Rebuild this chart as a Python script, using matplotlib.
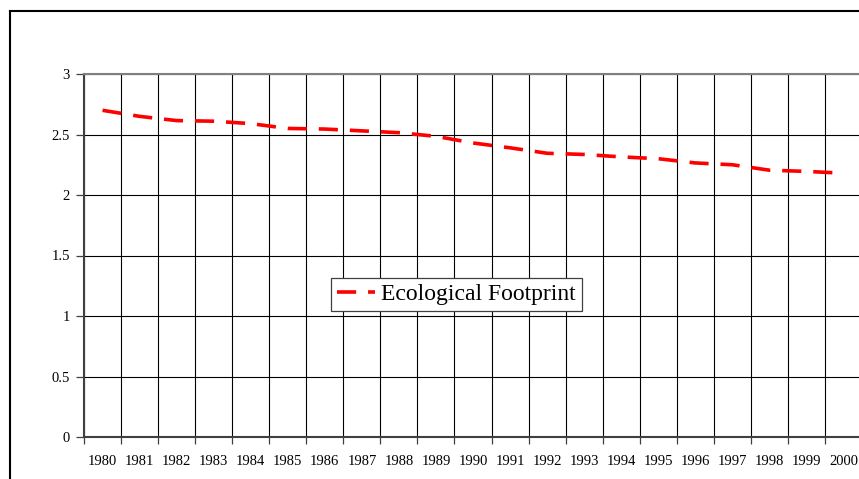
import matplotlib
matplotlib.use("Agg")
import matplotlib.pyplot as plt
from matplotlib.lines import Line2D

# Data points
years = [str(y) for y in range(1980, 2001)]
footprint = [2.70, 2.65, 2.615, 2.61, 2.59, 2.55, 2.545, 2.53, 2.515, 2.485,
             2.43, 2.39, 2.345, 2.335, 2.315, 2.30, 2.265, 2.25, 2.205, 2.195, 2.18]
yticks = [0, 0.5, 1, 1.5, 2, 2.5, 3]

plt.rcParams['font.family'] = ['Liberation Serif', 'DejaVu Serif']

W, H = 859, 479
fig = plt.figure(figsize=(W / 100, H / 100), dpi=100)

# plot area (runs slightly past the right edge like the original)
ax = fig.add_axes([84 / W, 1 - 437 / H, (862 - 84) / W, (437 - 74) / H])

x = list(range(len(years)))
ax.plot(x, footprint, color='#FF0000', lw=2.6, solid_capstyle='butt',
        dash_capstyle='butt', linestyle=(0, (5.3, 3.3)), label='Ecological Footprint',
        zorder=3)

ax.set_xlim(-0.5, len(years) - 0.5)
ax.set_ylim(0, 3)

# category boundaries carry the ticks and grid, labels sit in the middle
ax.set_xticks([i - 0.5 for i in range(len(years) + 1)])
ax.set_xticklabels([])
ax.set_xticks(x, minor=True)
ax.set_xticklabels(years, minor=True, fontsize=10.5)
ax.tick_params(axis='x', which='major', length=5, width=0.9, color='#404040', direction='out')
ax.tick_params(axis='x', which='minor', length=0, pad=13)

ax.set_yticks(yticks)
ax.set_yticklabels([f'{v:g}' for v in yticks], fontsize=10.5)
ax.tick_params(axis='y', length=6, width=0.9, color='#404040', direction='out', pad=4)

ax.grid(True, which='major', color='black', lw=0.8)
ax.set_axisbelow(True)

for side in ['left', 'bottom']:
    ax.spines[side].set_color('#404040')
    ax.spines[side].set_linewidth(1.5)
ax.spines['top'].set_color('#808080')
ax.spines['top'].set_linewidth(1.5)
ax.spines['right'].set_visible(False)

leg = ax.legend(loc='upper left', bbox_to_anchor=(331 / W, 1 - 278 / H),
                bbox_transform=fig.transFigure, borderaxespad=0, fontsize=17,
                fancybox=False, framealpha=1, edgecolor='#404040', borderpad=0.25,
                handlelength=1.6, handletextpad=0.28)
leg.get_frame().set_linewidth(0.9)

# outer chart border (only the top-left part is inside the image)
fig.add_artist(Line2D([9.5 / W, 9.5 / W], [0, 1 - 10.5 / H], color='black', lw=1.5,
                      transform=fig.transFigure))
fig.add_artist(Line2D([9.5 / W, 1], [1 - 10.5 / H, 1 - 10.5 / H], color='black', lw=1.5,
                      transform=fig.transFigure))

fig.savefig('out.png', dpi=100)
